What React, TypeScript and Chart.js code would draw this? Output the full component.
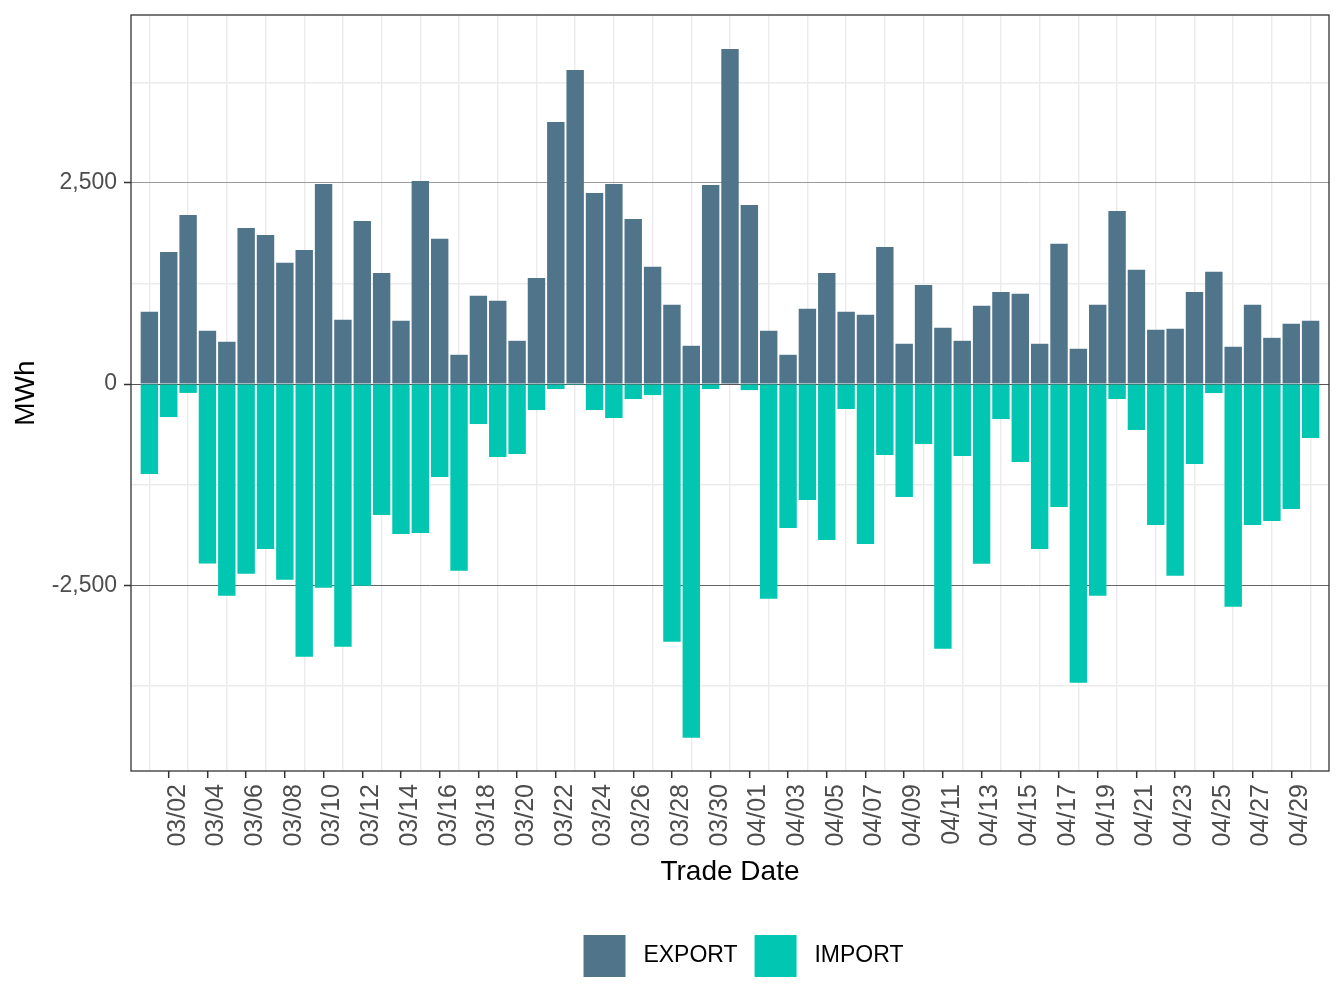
import React, { useEffect, useRef } from "react";
import { Chart, registerables } from "chart.js";

Chart.register(...registerables);

const tradeDates = [
  "03/01", "03/02", "03/03", "03/04", "03/05", "03/06", "03/07", "03/08", "03/09", "03/10",
  "03/11", "03/12", "03/13", "03/14", "03/15", "03/16", "03/17", "03/18", "03/19", "03/20",
  "03/21", "03/22", "03/23", "03/24", "03/25", "03/26", "03/27", "03/28", "03/29", "03/30",
  "03/31", "04/01", "04/02", "04/03", "04/04", "04/05", "04/06", "04/07", "04/08", "04/09",
  "04/10", "04/11", "04/12", "04/13", "04/14", "04/15", "04/16", "04/17", "04/18", "04/19",
  "04/20", "04/21", "04/22", "04/23", "04/24", "04/25", "04/26", "04/27", "04/28", "04/29",
  "04/30",
];

const exportMWh = [
  898, 1643, 2103, 662, 526, 1941, 1854, 1507, 1668, 2488,
  799, 2028, 1382, 786, 2525, 1805, 364, 1097, 1035, 538,
  1320, 3257, 3903, 2376, 2488, 2053, 1457, 985, 476, 2475,
  4164, 2227, 662, 364, 935, 1382, 898, 861, 1705, 501,
  1233, 699, 538, 973, 1146, 1122, 501, 1743, 439, 985,
  2152, 1420, 675, 687, 1146, 1395, 464, 985, 575, 749,
  786,
];

const importMWh = [
  -1118, -410, -110, -2231, -2632, -2359, -2049, -2434, -3390, -2533,
  -3266, -2508, -1627, -1863, -1850, -1155, -2322, -497, -906, -869,
  -323, -62, -12, -323, -422, -186, -137, -3204, -4396, -62,
  0, -75, -2670, -1788, -1440, -1937, -310, -1987, -882, -1403,
  -745, -3291, -894, -2235, -435, -969, -2049, -1527, -3713, -2632,
  -186, -571, -1751, -2384, -993, -112, -2769, -1751, -1701, -1552,
  -671,
];

const yGridValues = [-3750, -2500, -1250, 0, 1250, 2500, 3750];
const yLabelledValues = [-2500, 0, 2500];

const FONT = "'Liberation Sans', Arial, Helvetica, sans-serif";

const panelBorder = {
  id: "panelBorder",
  afterLayout(chart: any) {
    // ggplot centres the legend a bit to the right of the canvas centre
    const L = chart.legend;
    if (L) {
      L.left += 79;
      L.right += 79;
    }
  },
  afterDraw(chart: any) {
    const { ctx, chartArea } = chart;
    ctx.save();
    ctx.strokeStyle = "#333333";
    ctx.lineWidth = 1.3;
    ctx.strokeRect(chartArea.left, chartArea.top, chartArea.right - chartArea.left, chartArea.bottom - chartArea.top);
    ctx.restore();
  },
};

export default function App() {
  const canvasRef = useRef<HTMLCanvasElement | null>(null);

  useEffect(() => {
    document.body.style.margin = "0";
    const canvas = canvasRef.current;
    if (!canvas) return;

    const chart = new Chart(canvas, {
      type: "bar",
      data: {
        datasets: [
          {
            label: "EXPORT",
            data: tradeDates.map((_, i) => ({ x: i, y: exportMWh[i] })),
            backgroundColor: "#50758A",
            barPercentage: 0.9,
            categoryPercentage: 1,
          },
          {
            label: "IMPORT",
            data: tradeDates.map((_, i) => ({ x: i, y: importMWh[i] })),
            backgroundColor: "#00C6B2",
            barPercentage: 0.9,
            categoryPercentage: 1,
          },
        ],
      },
      options: {
        responsive: false,
        animation: false,
        devicePixelRatio: 1,
        layout: { padding: { left: 0, right: 15, top: 15, bottom: 21 } },
        plugins: {
          legend: {
            position: "bottom",
            labels: {
              boxWidth: 42,
              boxHeight: 42,
              padding: 17,
              color: "#000000",
              font: { family: FONT, size: 23 },
              generateLabels: (chart: any) =>
                Chart.defaults.plugins.legend.labels
                  .generateLabels(chart)
                  .map((item: any) => ({ ...item, text: " " + item.text })),
            },
          },
          tooltip: { enabled: false },
        },
        scales: {
          x: {
            type: "linear",
            stacked: true,
            offset: false,
            min: -0.95,
            max: tradeDates.length - 1 + 0.95,
            afterBuildTicks: (scale: any) => {
              scale.ticks = tradeDates.map((_, i) => ({ value: i }));
            },
            afterFit: (scale: any) => {
              scale.height = 147;
              scale.paddingLeft = 0;
              scale.paddingRight = 0;
            },
            ticks: {
              autoSkip: false,
              minRotation: 90,
              maxRotation: 90,
              padding: 6,
              labelOffset: 9,
              color: "#4d4d4d",
              font: { family: FONT, size: 25 },
              callback: (_v: any, index: number) => (index % 2 === 1 ? tradeDates[index] : ""),
            },
            grid: {
              offset: false,
              color: (ctx: any) => (ctx.index % 2 === 0 ? "#ebebeb" : "rgba(0,0,0,0)"),
              lineWidth: 1.4,
              tickColor: (ctx: any) => (ctx.index % 2 === 1 ? "#333333" : "rgba(0,0,0,0)"),
              tickWidth: 1.5,
              tickLength: 7,
            },
            border: { display: false },
            title: {
              display: true,
              text: "Trade Date",
              color: "#000000",
              font: { family: FONT, size: 28 },
              padding: { top: 0, bottom: 29 },
            },
          },
          y: {
            type: "linear",
            stacked: true,
            min: -4810,
            max: 4588,
            afterBuildTicks: (scale: any) => {
              scale.ticks = yGridValues.map((v) => ({ value: v }));
            },
            afterFit: (scale: any) => {
              scale.width = 131;
              scale.paddingTop = 0;
              scale.paddingBottom = 0;
            },
            ticks: {
              padding: 7,
              color: "#4d4d4d",
              font: { family: FONT, size: 23 },
              callback: (v: any) =>
                yLabelledValues.includes(Number(v)) ? Number(v).toLocaleString("en-US") : "",
            },
            grid: {
              color: (ctx: any) => {
                const v = ctx.tick ? ctx.tick.value : null;
                if (v === 0) return "#555555";
                if (v === 2500) return "#9a9a9a";
                if (v === -2500) return "#666666";
                return "#ebebeb";
              },
              lineWidth: (ctx: any) => {
                const v = ctx.tick ? ctx.tick.value : null;
                return yLabelledValues.includes(v) ? 1 : 1.4;
              },
              tickColor: (ctx: any) => {
                const v = ctx.tick ? ctx.tick.value : null;
                return yLabelledValues.includes(v) ? "#333333" : "rgba(0,0,0,0)";
              },
              tickWidth: 1.5,
              tickLength: 7,
            },
            border: { display: false },
            title: {
              display: true,
              text: "MWh",
              color: "#000000",
              font: { family: FONT, size: 28 },
              padding: { top: 9, bottom: 0 },
            },
          },
        },
      },
      plugins: [panelBorder],
    } as any);

    return () => chart.destroy();
  }, []);

  return (
    <div style={{ width: 1344, height: 1008, position: "relative", background: "#ffffff" }}>
      <canvas ref={canvasRef} width={1344} height={1008} />
    </div>
  );
}
